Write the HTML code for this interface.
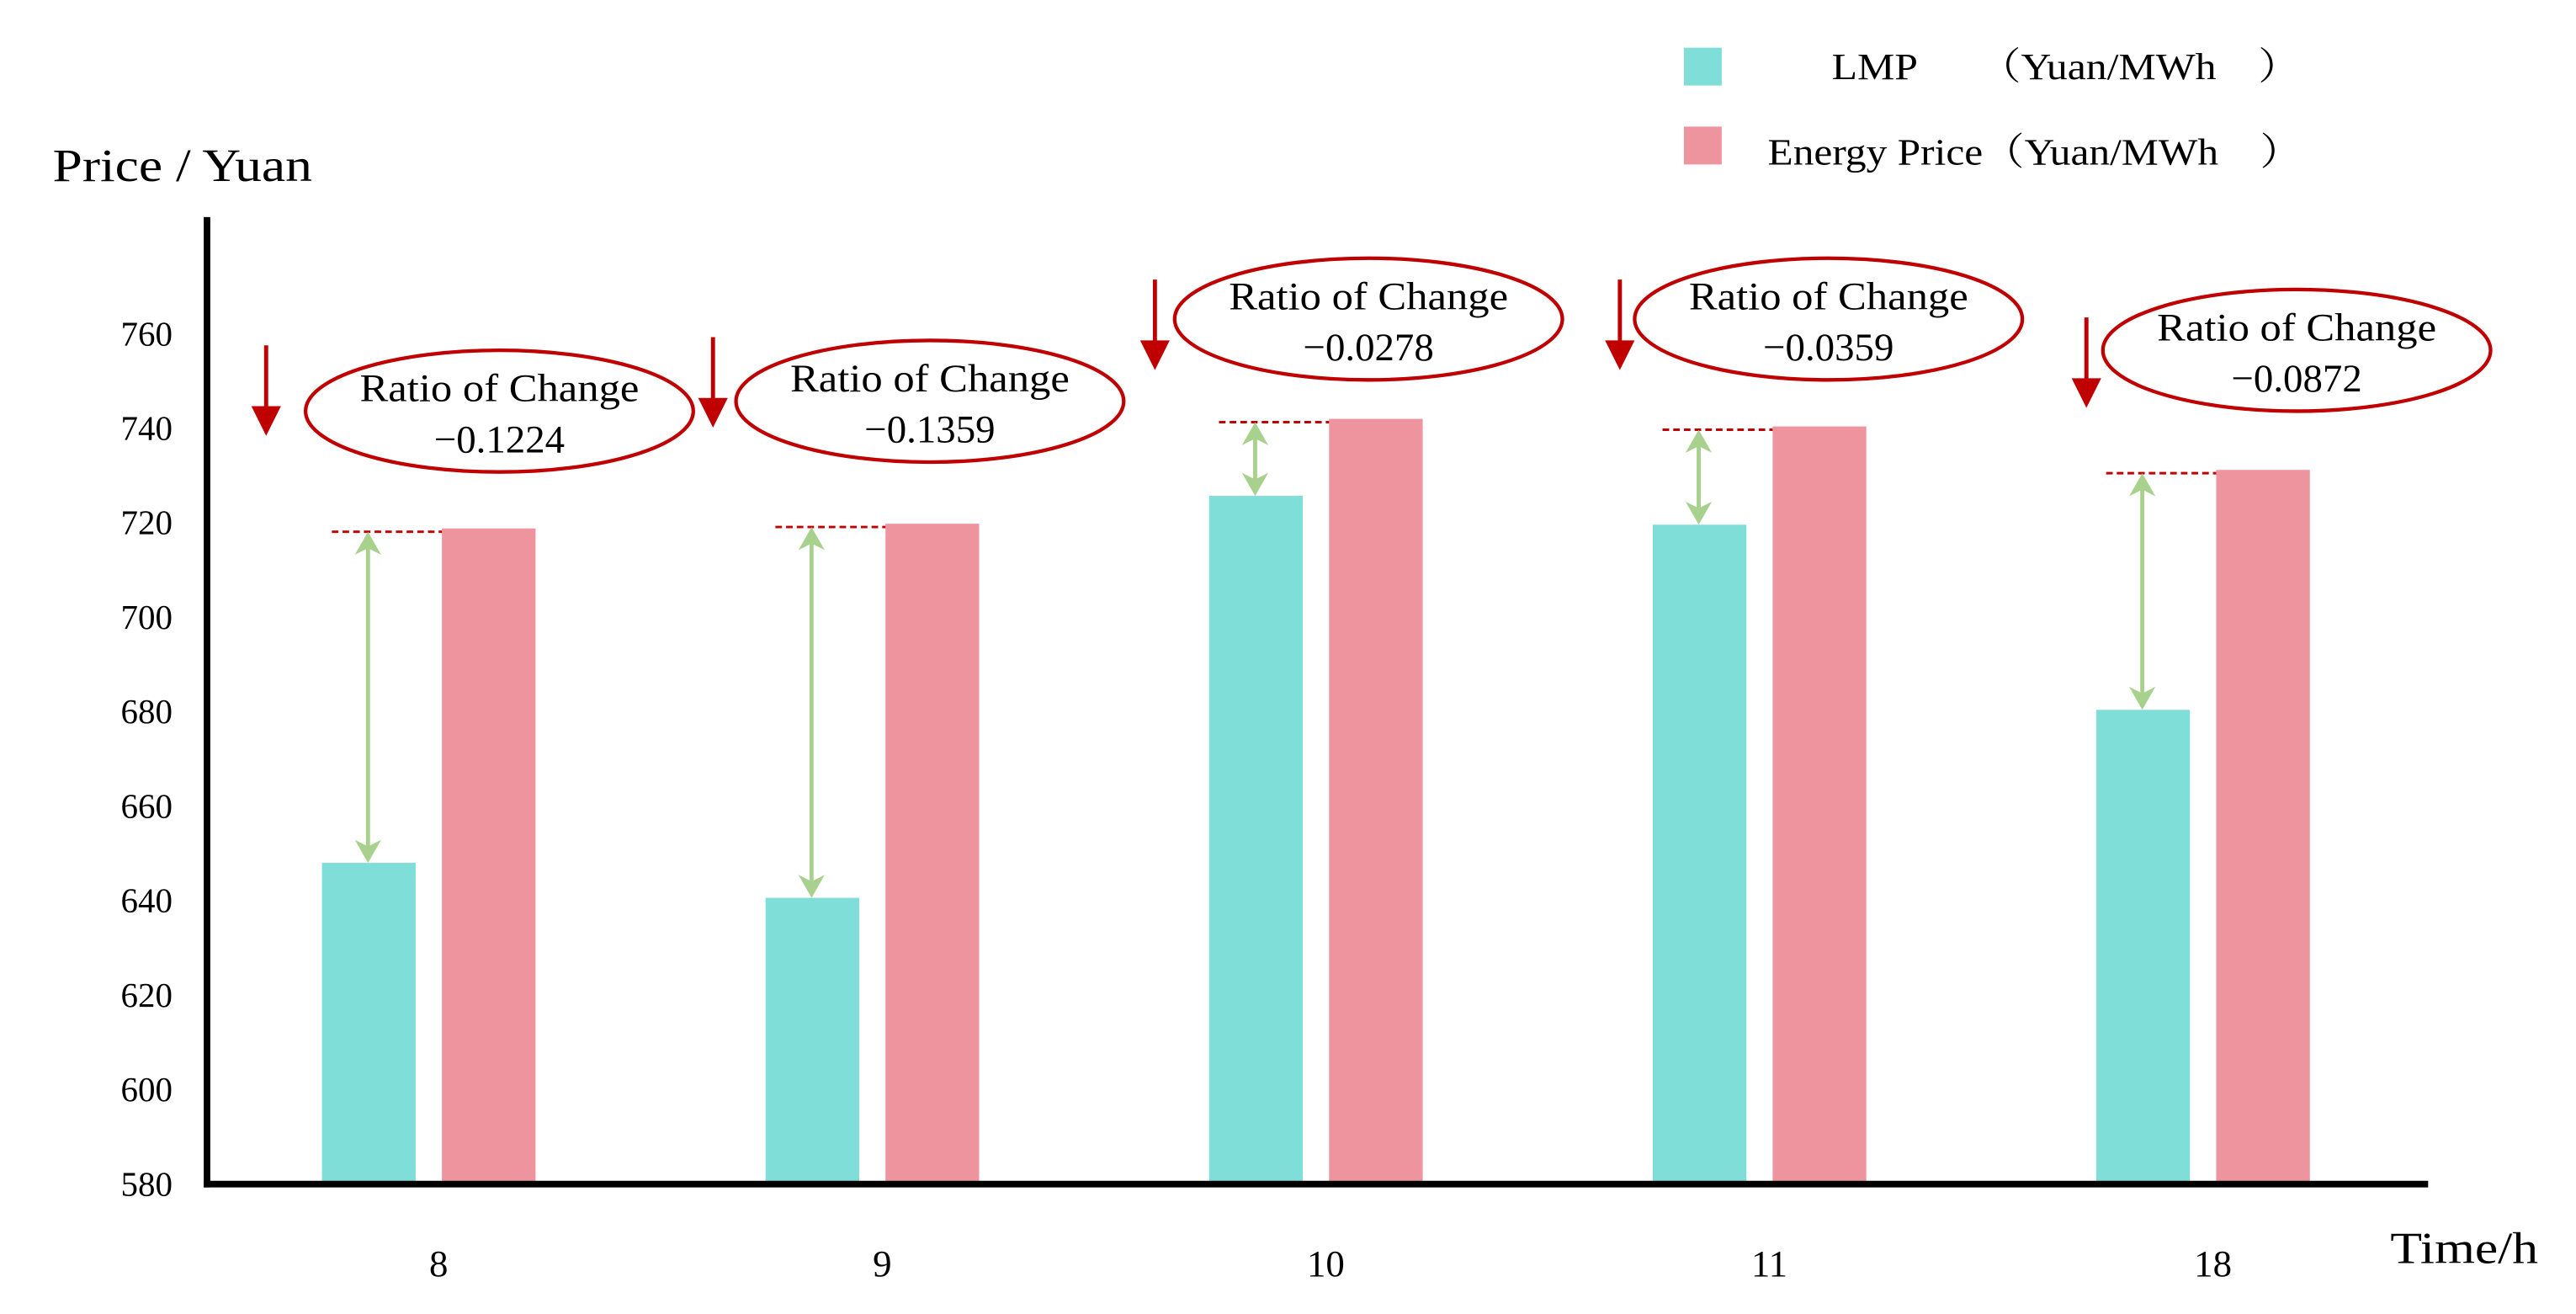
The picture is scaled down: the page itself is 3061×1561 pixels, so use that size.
<!DOCTYPE html>
<html><head><meta charset="utf-8"><style>
html,body{margin:0;padding:0;background:#fff;}
svg{display:block;}
text{font-family:"Liberation Serif","Noto Serif CJK SC",serif;fill:#000;}
</style></head><body>
<svg id="chart" width="3061" height="1561" viewBox="0 0 1568 799" preserveAspectRatio="none" xmlns="http://www.w3.org/2000/svg">
<text x="32" y="110" font-size="28" textLength="158" lengthAdjust="spacingAndGlyphs">Price / Yuan</text>
<text x="1455" y="768" font-size="27" textLength="90" lengthAdjust="spacingAndGlyphs">Time/h</text>
<g>
<rect x="1025" y="29" width="23" height="23" fill="#7FDED8"/>
<text x="1115" y="48" font-size="23" textLength="285" lengthAdjust="spacingAndGlyphs">LMP　　（Yuan/MWh　）</text>
<rect x="1025" y="77" width="23" height="23" fill="#EE949E"/>
<text x="1076" y="100" font-size="23" textLength="325" lengthAdjust="spacingAndGlyphs">Energy Price（Yuan/MWh　）</text>
</g>
<g id="plot"></g>
<line x1="126" y1="132" x2="126" y2="722" stroke="#000" stroke-width="4"/>
<line x1="124" y1="720" x2="1478" y2="720" stroke="#000" stroke-width="4"/>
</svg>
<script>
const categories = ["8","9","10","11","18"];
const lmpValues = [648, 640.6, 725.7, 719.6, 680.4];
const energyValues = [718.8, 719.8, 742, 740.4, 731.2];
const ratioLabels = ["\u22120.1224","\u22120.1359","\u22120.0278","\u22120.0359","\u22120.0872"];
const yTicks = [580,600,620,640,660,680,700,720,740,760];
const NS="http://www.w3.org/2000/svg";
const g=document.getElementById('plot');
function y(v){return 720-(v-580)*(517/180);}
function gx(i){return 196+i*270;}
function mk(tag,attrs,parent){const e=document.createElementNS(NS,tag);for(const k in attrs)e.setAttribute(k,attrs[k]);(parent||g).appendChild(e);return e;}
yTicks.forEach(t=>{const e=mk('text',{x:105,y:y(t)+7,'font-size':21,'text-anchor':'end'});e.textContent=t;

});
const ellY=[250,244,194,194,213];
const ellX=[304,566,833,1113,1398];
const arrX=[162,434,703,986,1270];
const arrTop=[210,205,170,170,193];
categories.forEach((c,i)=>{
  const x0=gx(i);
  const b1=mk('rect',{x:x0,y:y(lmpValues[i]),width:57,height:720-y(lmpValues[i]),fill:'#7FDED8'});
  
  
  const b2=mk('rect',{x:x0+73,y:y(energyValues[i]),width:57,height:720-y(energyValues[i]),fill:'#EE949E'});
  
  
  const yl=y(energyValues[i])+2;
  const d=mk('line',{x1:x0+6,y1:yl,x2:x0+73,y2:yl,stroke:'#C00000','stroke-width':1.5,'stroke-dasharray':'4 2.5'});
  
  
  const cx=x0+28, ya=yl, yb=y(lmpValues[i]);
  const ga=mk('g',{});
  
  
  mk('line',{x1:cx,y1:ya+10,x2:cx,y2:yb-10,stroke:'#A9D18E','stroke-width':2.5},ga);
  mk('polygon',{points:`${cx},${ya} ${cx-8},${ya+14} ${cx},${ya+10} ${cx+8},${ya+14}`,fill:'#A9D18E'},ga);
  mk('polygon',{points:`${cx},${yb} ${cx-8},${yb-14} ${cx},${yb-10} ${cx+8},${yb-14}`,fill:'#A9D18E'},ga);
  const ra=mk('g',{});
  
  
  const ax=arrX[i], at=arrTop[i];
  mk('line',{x1:ax,y1:at,x2:ax,y2:at+40,stroke:'#C00000','stroke-width':2.5},ra);
  mk('polygon',{points:`${ax-9},${at+37} ${ax+9},${at+37} ${ax},${at+55}`,fill:'#C00000'},ra);
  const an=mk('g',{});
  
  
  mk('ellipse',{cx:ellX[i],cy:ellY[i],rx:118,ry:37,fill:'none',stroke:'#C00000','stroke-width':2.2},an);
  const t1=mk('text',{x:ellX[i],y:ellY[i]-6,'font-size':24,'text-anchor':'middle',textLength:170,lengthAdjust:'spacingAndGlyphs'},an);t1.textContent='Ratio of Change';
  const t2=mk('text',{x:ellX[i],y:ellY[i]+25,'font-size':24,'text-anchor':'middle'},an);t2.textContent=ratioLabels[i];
  const xl=mk('text',{x:x0+71,y:776,'font-size':23,'text-anchor':'middle'});xl.textContent=c;
  
  
});
</script>
</body></html>
